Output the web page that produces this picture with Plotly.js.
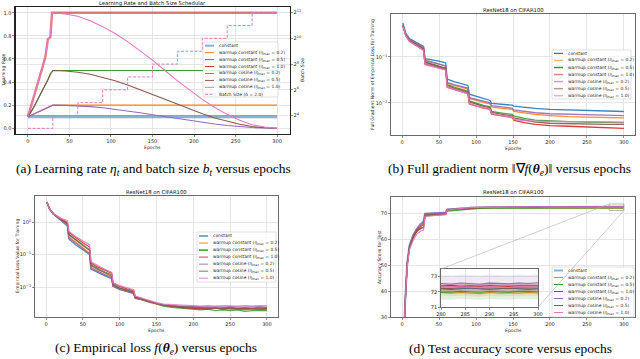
<!DOCTYPE html>
<html>
<head>
<meta charset="utf-8">
<script src="https://cdn.plot.ly/plotly-3.0.1.min.js"></script>
<style>
  html, body { margin: 0; padding: 0; background: #fff; }
  #fig { width: 640px; height: 359px; }
</style>
</head>
<body>
<div id="fig"></div>
<script>
// ---------------------------------------------------------------
// Data
// ---------------------------------------------------------------
const seriesNames = [
  "constant",
  "warmup constant (η<sub>max</sub> = 0.2)",
  "warmup constant (η<sub>max</sub> = 0.5)",
  "warmup constant (η<sub>max</sub> = 1.0)",
  "warmup cosine (η<sub>max</sub> = 0.2)",
  "warmup cosine (η<sub>max</sub> = 0.5)",
  "warmup cosine (η<sub>max</sub> = 1.0)"
];
const batchName = "Batch Size (δ = 2.0)";

// (a) learning rate schedule
const lrEpochs = [0,3,6,9,12,15,18,21,24,27,29,30,45,60,75,90,105,120,135,150,165,180,195,210,225,240,255,270,285,300];
const lrConstant    = [0.1,0.1,0.1,0.1,0.1,0.1,0.1,0.1,0.1,0.1,0.1,0.1,0.1,0.1,0.1,0.1,0.1,0.1,0.1,0.1,0.1,0.1,0.1,0.1,0.1,0.1,0.1,0.1,0.1,0.1];
const lrWarmConst02 = [0.1,0.11,0.12,0.13,0.14,0.15,0.16,0.17,0.18,0.19,0.2,0.2,0.2,0.2,0.2,0.2,0.2,0.2,0.2,0.2,0.2,0.2,0.2,0.2,0.2,0.2,0.2,0.2,0.2,0.2];
const lrWarmConst05 = [0.1,0.13,0.17,0.21,0.25,0.29,0.33,0.37,0.42,0.47,0.5,0.5,0.5,0.5,0.5,0.5,0.5,0.5,0.5,0.5,0.5,0.5,0.5,0.5,0.5,0.5,0.5,0.5,0.5,0.5];
const lrWarmConst10 = [0.1,0.17,0.24,0.31,0.38,0.46,0.54,0.62,0.77,0.79,1.0,1.0,1.0,1.0,1.0,1.0,1.0,1.0,1.0,1.0,1.0,1.0,1.0,1.0,1.0,1.0,1.0,1.0,1.0,1.0];
const lrWarmCos02   = [0.1,0.11,0.12,0.13,0.14,0.15,0.16,0.17,0.18,0.19,0.2,0.2,0.198,0.194,0.187,0.177,0.164,0.15,0.134,0.117,0.1,0.083,0.066,0.05,0.036,0.023,0.013,0.006,0.002,0];
const lrWarmCos05   = [0.1,0.13,0.17,0.21,0.25,0.29,0.33,0.37,0.42,0.47,0.5,0.5,0.496,0.485,0.467,0.442,0.411,0.375,0.336,0.293,0.25,0.207,0.165,0.125,0.089,0.059,0.034,0.015,0.004,0];
const lrWarmCos10   = [0.1,0.17,0.24,0.31,0.38,0.46,0.54,0.62,0.77,0.79,1.0,1.0,0.99,0.97,0.93,0.88,0.82,0.75,0.67,0.59,0.5,0.41,0.33,0.25,0.18,0.12,0.07,0.03,0.01,0];
const batchEpochs = [0,30,60,90,120,150,180,210,240,270,300];
const batchSize   = [8,16,32,64,128,256,512,1024,2048,4096,4096];

// (b) full gradient norm
const gnEpochs = [1,5,10,20,29,31,40,50,59,61,70,80,89,91,100,110,119,121,135,149,151,165,180,200,225,250,275,300];
const gnConstant    = [0.55,0.33,0.25,0.2,0.17,0.092,0.087,0.081,0.074,0.033,0.029,0.026,0.024,0.0155,0.014,0.0125,0.0113,0.0098,0.0093,0.0089,0.0085,0.008,0.0076,0.0072,0.007,0.0068,0.0067,0.0065];
const gnWarmConst02 = [0.5,0.31,0.24,0.19,0.16,0.085,0.078,0.07,0.063,0.027,0.024,0.022,0.02,0.0125,0.0112,0.0102,0.0095,0.0082,0.0076,0.0072,0.0065,0.006,0.0056,0.0053,0.005,0.0049,0.0048,0.0047];
const gnWarmConst05 = [0.5,0.3,0.23,0.18,0.15,0.078,0.07,0.063,0.057,0.025,0.022,0.02,0.018,0.011,0.0098,0.0088,0.0082,0.0065,0.006,0.0056,0.0052,0.0046,0.0042,0.004,0.0039,0.0038,0.0037,0.0037];
const gnWarmConst10 = [0.48,0.29,0.22,0.17,0.14,0.07,0.064,0.058,0.053,0.022,0.02,0.018,0.016,0.0095,0.0085,0.0077,0.0072,0.0057,0.0052,0.0048,0.0042,0.0037,0.0034,0.0032,0.0031,0.003,0.0029,0.0028];
const gnWarmCos02   = [0.5,0.31,0.24,0.19,0.16,0.084,0.077,0.07,0.064,0.028,0.025,0.023,0.021,0.013,0.0118,0.0108,0.01,0.0087,0.0081,0.0077,0.007,0.0065,0.0061,0.0058,0.0056,0.0055,0.0054,0.0053];
const gnWarmCos05   = [0.49,0.3,0.23,0.18,0.15,0.076,0.069,0.062,0.056,0.024,0.021,0.019,0.017,0.0105,0.0093,0.0084,0.0078,0.0062,0.0056,0.0052,0.0047,0.0042,0.0038,0.0036,0.0035,0.0035,0.0034,0.0034];
const gnWarmCos10   = [0.48,0.29,0.22,0.17,0.14,0.068,0.062,0.056,0.052,0.022,0.02,0.018,0.016,0.0095,0.0086,0.0078,0.0073,0.0058,0.0053,0.0049,0.0044,0.0041,0.004,0.0039,0.0039,0.0039,0.0038,0.0038];

// (c) empirical loss
const lossEpochs = [1,5,10,20,29,31,40,50,59,61,70,80,89,91,100,110,119,121,130,140,150,160,170,180,190,200,210,220,230,240,250,260,270,280,290,300];
const lossConstant    = [4.1,2.5,1.75,1.15,0.75,0.3,0.2,0.14,0.1,0.036,0.028,0.022,0.018,0.0105,0.0085,0.0072,0.0064,0.0047,0.0042,0.0036,0.0031,0.0028,0.0027,0.0026,0.0024,0.0025,0.0023,0.0024,0.0022,0.0023,0.0024,0.0022,0.0023,0.0022,0.0024,0.0023];
const lossWarmConst02 = [4.1,2.5,1.75,1.17,0.8,0.35,0.24,0.16,0.11,0.04,0.031,0.024,0.02,0.011,0.0088,0.0074,0.0066,0.0046,0.0041,0.0034,0.003,0.0027,0.0026,0.0024,0.0023,0.0022,0.0022,0.0021,0.0023,0.0021,0.0022,0.0021,0.002,0.0022,0.0021,0.002];
const lossWarmConst05 = [4.1,2.5,1.77,1.2,0.88,0.42,0.29,0.2,0.14,0.048,0.037,0.029,0.024,0.012,0.0095,0.008,0.0071,0.0048,0.0042,0.0035,0.003,0.0026,0.0024,0.0023,0.0022,0.0021,0.002,0.0021,0.0019,0.002,0.0019,0.002,0.0018,0.0019,0.0019,0.0019];
const lossWarmConst10 = [4.1,2.5,1.8,1.25,0.95,0.48,0.33,0.23,0.17,0.055,0.042,0.033,0.027,0.013,0.0105,0.0088,0.0078,0.0052,0.0045,0.0037,0.0031,0.0028,0.0026,0.0024,0.0023,0.0022,0.0022,0.0021,0.0023,0.0021,0.0022,0.0021,0.0022,0.0021,0.0021,0.0022];
const lossWarmCos02   = [4.1,2.5,1.75,1.16,0.78,0.33,0.23,0.15,0.105,0.038,0.03,0.023,0.019,0.0105,0.0085,0.0072,0.0064,0.0045,0.0041,0.0035,0.0031,0.0028,0.0027,0.0026,0.0025,0.0026,0.0025,0.0024,0.0025,0.0024,0.0025,0.0024,0.0024,0.0025,0.0024,0.0024];
const lossWarmCos05   = [4.1,2.5,1.77,1.2,0.88,0.41,0.28,0.19,0.135,0.046,0.035,0.027,0.022,0.0115,0.0092,0.0078,0.0069,0.0047,0.0042,0.0036,0.0031,0.0028,0.0026,0.0025,0.0024,0.0023,0.0023,0.0022,0.0022,0.0022,0.0021,0.0022,0.0021,0.0021,0.0022,0.0021];
const lossWarmCos10   = [4.1,2.5,1.8,1.3,1.1,0.52,0.36,0.26,0.2,0.06,0.046,0.035,0.028,0.0135,0.011,0.0092,0.0082,0.0053,0.0046,0.0038,0.0033,0.003,0.0029,0.0028,0.0027,0.0027,0.0026,0.0027,0.0026,0.0027,0.0026,0.0026,0.0027,0.0026,0.0027,0.0027];

// (d) test accuracy
const accEpochs = [1,3,5,7,10,15,20,25,29,31,40,50,59,61,70,80,89,91,100,120,150,180,210,240,270,280,282,284,286,288,290,292,294,296,298,300];
const accConstant    = [14,30,41,51,57.5,61.5,64,65.8,66.8,69.8,69.8,70,70.2,71.4,71.6,71.7,71.8,72,72.1,72.2,72.2,72.2,72.3,72.2,72.2,72.2,72.15,72.2,72.25,72.2,72.15,72.2,72.25,72.2,72.15,72.2];
const accWarmConst02 = [14,30,40.5,50.5,57,61,63.5,65,66,69.2,69.4,69.6,69.8,71.2,71.4,71.5,71.6,71.8,71.9,72,72,72,71.95,71.95,71.9,71.95,71.9,71.95,71.92,71.88,71.95,71.9,71.93,71.9,71.95,71.92];
const accWarmConst05 = [14,30,40.5,50.5,56.5,60.5,63,64.2,64.5,68.8,69,69.2,69.5,70.8,71,71.2,71.4,71.6,71.7,71.9,71.95,72,72,72,72,72.02,71.98,72.03,72,71.97,72.02,72,71.98,72.03,72,72];
const accWarmConst10 = [14,30,40.5,50,56.5,60.5,63,64,64.5,69,69.2,69.4,69.6,71.2,71.4,71.6,71.8,72,72.1,72.2,72.3,72.35,72.35,72.4,72.4,72.38,72.42,72.36,72.4,72.37,72.41,72.38,72.36,72.4,72.38,72.4];
const accWarmCos02   = [14,30,41,51,57.5,61.5,64,65.5,66.5,69.8,69.9,70.1,70.3,71.5,71.8,71.9,72,72.2,72.3,72.4,72.45,72.5,72.5,72.55,72.55,72.55,72.5,72.58,72.55,72.5,72.57,72.55,72.52,72.58,72.55,72.6];
const accWarmCos05   = [14,30,40.5,50.5,57,61,63.5,64.8,65.5,69.3,69.5,69.7,69.8,71.2,71.5,71.7,71.8,72,72.1,72.2,72.25,72.25,72.25,72.25,72.25,72.25,72.22,72.27,72.25,72.23,72.27,72.25,72.22,72.26,72.25,72.25];
const accWarmCos10   = [14,30,40,49.5,56,59.5,62,63,63.5,68.8,69,69.2,69.4,71.2,71.5,71.7,71.9,72.1,72.2,72.3,72.35,72.35,72.3,72.3,72.3,72.32,72.28,72.33,72.3,72.27,72.32,72.3,72.28,72.33,72.3,72.3];
// spread (std over runs) of the final accuracy, shown as bands in the inset
const accSpread = [0.15, 0.2, 0.5, 0.2, 0.55, 0.2, 0.25];

// ---------------------------------------------------------------
// Styling / layout helpers
// ---------------------------------------------------------------
const colors = ["#1f77b4", "#ff7f0e", "#2ca02c", "#d62728", "#9467bd", "#8c564b", "#e377c2"];
const W = 640, H = 359;
const px = (x) => x / W;
const py = (y) => 1 - y / H;

// plot-area boxes in pixels
const boxA = { l: 15.5, r: 289.5, t: 7, b: 134 };
const boxB = { l: 391, r: 635, t: 14, b: 135 };
const boxC = { l: 35, r: 278, t: 196, b: 317 };
const boxD = { l: 391, r: 635, t: 197, b: 317 };
const boxInset = { l: 441, r: 538, t: 269, b: 307 };

const tickFont = { family: "DejaVu Sans", size: 5, color: "#222" };
const smallFont = { family: "DejaVu Sans", size: 4.6, color: "#222" };
const legendFont = { family: "DejaVu Sans", size: 4.4, color: "#222" };
const titleFont = { family: "DejaVu Sans", size: 5.3, color: "#111" };
const capFont = { family: "Liberation Serif", size: 13.5, color: "#000" };

function axis(box, horiz, extra) {
  return Object.assign({
    domain: horiz ? [px(box.l), px(box.r)] : [py(box.b), py(box.t)],
    showgrid: true, gridcolor: "#dedede", gridwidth: 0.8,
    zeroline: false, showline: true, mirror: true,
    linecolor: "#444", linewidth: 0.8,
    ticks: "outside", ticklen: 2, tickwidth: 0.6, tickcolor: "#444",
    tickfont: tickFont, automargin: false, fixedrange: true
  }, extra);
}

const epochTicks = [0, 50, 100, 150, 200, 250, 300];
const epochRange = [-15, 315];

const traces = [];

// (a)
const lrSeries = [lrConstant, lrWarmConst02, lrWarmConst05, lrWarmConst10, lrWarmCos02, lrWarmCos05, lrWarmCos10];
const lrWidths = [3.2, 1.1, 1.1, 2.4, 1.1, 1.1, 1.1];
const lrAlpha = [0.55, 1, 1, 0.6, 1, 1, 1];
lrSeries.forEach((ys, i) => {
  traces.push({
    x: lrEpochs, y: ys, xaxis: "x", yaxis: "y", mode: "lines",
    line: { color: colors[i], width: lrWidths[i] }, opacity: lrAlpha[i],
    hoverinfo: "skip", showlegend: false
  });
});
traces.push({
  x: batchEpochs, y: batchSize, xaxis: "x", yaxis: "y2", mode: "lines",
  line: { color: colors[6], width: 1, dash: "3px,1.6px", shape: "hv" },
  hoverinfo: "skip", showlegend: false
});

// (b)
const gnSeries = [gnConstant, gnWarmConst02, gnWarmConst05, gnWarmConst10, gnWarmCos02, gnWarmCos05, gnWarmCos10];
gnSeries.forEach((ys, i) => {
  traces.push({
    x: gnEpochs, y: ys, xaxis: "x2", yaxis: "y3", mode: "lines",
    line: { color: colors[i], width: 1.3 }, opacity: 0.9,
    hoverinfo: "skip", showlegend: false
  });
});

// (c)
const lossSeries = [lossConstant, lossWarmConst02, lossWarmConst05, lossWarmConst10, lossWarmCos02, lossWarmCos05, lossWarmCos10];
lossSeries.forEach((ys, i) => {
  traces.push({
    x: lossEpochs, y: ys, xaxis: "x3", yaxis: "y4", mode: "lines",
    line: { color: colors[i], width: 1.3 }, opacity: 0.85,
    hoverinfo: "skip", showlegend: false
  });
});

// (d) main
const accSeries = [accConstant, accWarmConst02, accWarmConst05, accWarmConst10, accWarmCos02, accWarmCos05, accWarmCos10];
accSeries.forEach((ys, i) => {
  traces.push({
    x: accEpochs, y: ys, xaxis: "x4", yaxis: "y5", mode: "lines",
    line: { color: colors[i], width: i === 0 ? 2 : 1.2 }, opacity: i === 0 ? 0.6 : 0.9,
    hoverinfo: "skip", showlegend: false
  });
});

// (d) inset: bands then lines
accSeries.forEach((ys, i) => {
  const lo = ys.map((v) => v - accSpread[i]);
  const hi = ys.map((v) => v + accSpread[i]);
  traces.push({ x: accEpochs, y: lo, xaxis: "x5", yaxis: "y6", mode: "lines",
    line: { width: 0, color: colors[i] }, hoverinfo: "skip", showlegend: false });
  traces.push({ x: accEpochs, y: hi, xaxis: "x5", yaxis: "y6", mode: "lines",
    line: { width: 0, color: colors[i] }, fill: "tonexty", fillcolor: colors[i] + "26",
    hoverinfo: "skip", showlegend: false });
});
accSeries.forEach((ys, i) => {
  traces.push({
    x: accEpochs, y: ys, xaxis: "x5", yaxis: "y6", mode: "lines",
    line: { color: colors[i], width: 1.1 }, hoverinfo: "skip", showlegend: false
  });
});

// ---------------------------------------------------------------
// shapes & annotations
// ---------------------------------------------------------------
const shapes = [];
const annotations = [];

function label(x, y, text, font, extra) {
  annotations.push(Object.assign({
    xref: "paper", yref: "paper", x: px(x), y: py(y), text: text,
    showarrow: false, font: font, xanchor: "center", yanchor: "middle"
  }, extra || {}));
}

function drawLegend(box, labels, lineColors, widths, dashes, alphas) {
  shapes.push({
    type: "rect", xref: "paper", yref: "paper", layer: "above",
    x0: px(box.l), x1: px(box.r), y0: py(box.b), y1: py(box.t),
    line: { color: "#cfcfcf", width: 0.6 }, fillcolor: "rgba(255,255,255,0.85)"
  });
  labels.forEach((lab, i) => {
    const yc = box.first + i * box.step;
    shapes.push({
      type: "line", xref: "paper", yref: "paper", layer: "above",
      x0: px(box.l + 2), x1: px(box.l + 11), y0: py(yc), y1: py(yc),
      line: { color: lineColors[i], width: widths[i], dash: dashes[i] },
      opacity: alphas[i]
    });
    label(box.l + 14, yc, lab, legendFont, { xanchor: "left" });
  });
}

const allNames = seriesNames.concat([batchName]);
drawLegend({ l: 203, r: 278, t: 42, b: 97, first: 45.7, step: 6.94 },
  allNames, colors.concat([colors[6]]),
  [2, 1, 1, 1, 1, 1, 1, 1], ["solid", "solid", "solid", "solid", "solid", "solid", "solid", "3px,1.6px"],
  [0.55, 1, 1, 1, 1, 1, 1, 1]);
const legW = [1.2, 1.5, 1.5, 1.5, 1.5, 1.5, 1.5];
const legD = ["solid", "solid", "solid", "solid", "solid", "solid", "solid"];
const legA = [1, 0.6, 1, 0.6, 0.6, 0.6, 0.6];
drawLegend({ l: 552, r: 631, t: 50, b: 99, first: 53.4, step: 7.05 }, seriesNames, colors, legW, legD, legA);
drawLegend({ l: 197, r: 276, t: 232, b: 282, first: 236, step: 7.05 }, seriesNames, colors, legW, legD, legA);
drawLegend({ l: 552, r: 634, t: 267, b: 317, first: 270.5, step: 7.0 }, seriesNames, colors,
  [2, 1, 1, 1, 1, 1, 1], legD, [0.55, 1, 1, 1, 1, 1, 1]);

// inset indicator on panel (d)
const insetX = [280, 300];
const insetY = [71, 73.5];
const dRangeY = [30, 76.2];
shapes.push({
  type: "rect", xref: "x4", yref: "y5", x0: insetX[0], x1: insetX[1], y0: insetY[0], y1: insetY[1],
  line: { color: "#9a9a9a", width: 0.7 }, fillcolor: "rgba(0,0,0,0)", layer: "above"
});
const dToPx = (e) => boxD.l + (e - epochRange[0]) / (epochRange[1] - epochRange[0]) * (boxD.r - boxD.l);
const dToPy = (v) => boxD.b - (v - dRangeY[0]) / (dRangeY[1] - dRangeY[0]) * (boxD.b - boxD.t);
shapes.push({ type: "line", xref: "paper", yref: "paper", layer: "above",
  x0: px(boxInset.l), y0: py(boxInset.t), x1: px(dToPx(insetX[0])), y1: py(dToPy(insetY[1])),
  line: { color: "#b0b0b0", width: 0.6 } });
shapes.push({ type: "line", xref: "paper", yref: "paper", layer: "above",
  x0: px(boxInset.r), y0: py(boxInset.b), x1: px(dToPx(insetX[1])), y1: py(dToPy(insetY[0])),
  line: { color: "#b0b0b0", width: 0.6 } });

// titles
label(152, 3.5, "Learning Rate and Batch Size Schedular", titleFont);
label(513, 9.5, "ResNet18 on CIFAR100", titleFont);
label(156, 191.5, "ResNet18 on CIFAR100", titleFont);
label(513, 192, "ResNet18 on CIFAR100", titleFont);

// axis titles
label(152, 147.5, "Epochs", smallFont);
label(513, 148, "Epochs", smallFont);
label(156, 330, "Epochs", smallFont);
label(513, 330, "Epochs", smallFont);
label(3.5, 70, "Learning Rate", smallFont, { textangle: -90 });
label(303, 70, "Batch Size", smallFont, { textangle: -90 });
label(373, 75, "Full Gradient Norm of Empirical Loss for Training", smallFont, { textangle: -90 });
label(17, 256, "Empirical Loss Value for Training", smallFont, { textangle: -90 });
label(379, 257, "Accuracy Score for Test", smallFont, { textangle: -90 });

// captions
label(153, 169, "(a) Learning rate <i>η</i><sub><i>t</i></sub> and batch size <i>b</i><sub><i>t</i></sub> versus epochs", capFont);
label(509, 169, "(b) Full gradient norm ‖∇<i>f</i>(<b><i>θ</i></b><sub><i>e</i></sub>)‖ versus epochs", capFont);
label(156, 348, "(c) Empirical loss <i>f</i>(<b><i>θ</i></b><sub><i>e</i></sub>) versus epochs", capFont);
label(510, 348, "(d) Test accuracy score versus epochs", capFont);

// ---------------------------------------------------------------
const layout = {
  width: W, height: H,
  margin: { l: 0, r: 0, t: 0, b: 0 },
  paper_bgcolor: "#fff", plot_bgcolor: "#fff",
  showlegend: false,
  xaxis: axis(boxA, true, { anchor: "y", range: epochRange, tickvals: epochTicks, linecolor: "#222", linewidth: 1.1 }),
  yaxis: axis(boxA, false, { anchor: "x", range: [-0.05, 1.05], tickvals: [0, 0.2, 0.4, 0.6, 0.8, 1.0],
    ticktext: ["0.0", "0.2", "0.4", "0.6", "0.8", "1.0"], linecolor: "#222", linewidth: 1.1 }),
  yaxis2: axis(boxA, false, { anchor: "x", overlaying: "y", side: "right", type: "log", mirror: false,
    range: [Math.log10(5.9), Math.log10(5570)], tickvals: [16, 64, 256, 1024, 4096],
    ticktext: ["2<sup>4</sup>", "2<sup>6</sup>", "2<sup>8</sup>", "2<sup>10</sup>", "2<sup>12</sup>"],
    linecolor: "#222", linewidth: 1.1 }),
  xaxis2: axis(boxB, true, { anchor: "y3", range: epochRange, tickvals: epochTicks }),
  yaxis3: axis(boxB, false, { anchor: "x2", type: "log", range: [Math.log10(0.002), Math.log10(0.86)],
    tickvals: [0.01, 0.1], ticktext: ["10<sup>−2</sup>", "10<sup>−1</sup>"] }),
  xaxis3: axis(boxC, true, { anchor: "y4", range: epochRange, tickvals: epochTicks }),
  yaxis4: axis(boxC, false, { anchor: "x3", type: "log", range: [-2.92, 0.8],
    tickvals: [0.01, 0.1, 1], ticktext: ["10<sup>−2</sup>", "10<sup>−1</sup>", "10<sup>0</sup>"] }),
  xaxis4: axis(boxD, true, { anchor: "y5", range: epochRange, tickvals: epochTicks }),
  yaxis5: axis(boxD, false, { anchor: "x4", range: dRangeY, tickvals: [30, 40, 50, 60, 70] }),
  xaxis5: axis(boxInset, true, { anchor: "y6", range: insetX, tickvals: [280, 285, 290, 295, 300] }),
  yaxis6: axis(boxInset, false, { anchor: "x5", range: insetY, tickvals: [71, 72, 73] }),
  shapes: shapes,
  annotations: annotations
};

Plotly.newPlot("fig", traces, layout, { staticPlot: true, displayModeBar: false });
</script>
</body>
</html>
